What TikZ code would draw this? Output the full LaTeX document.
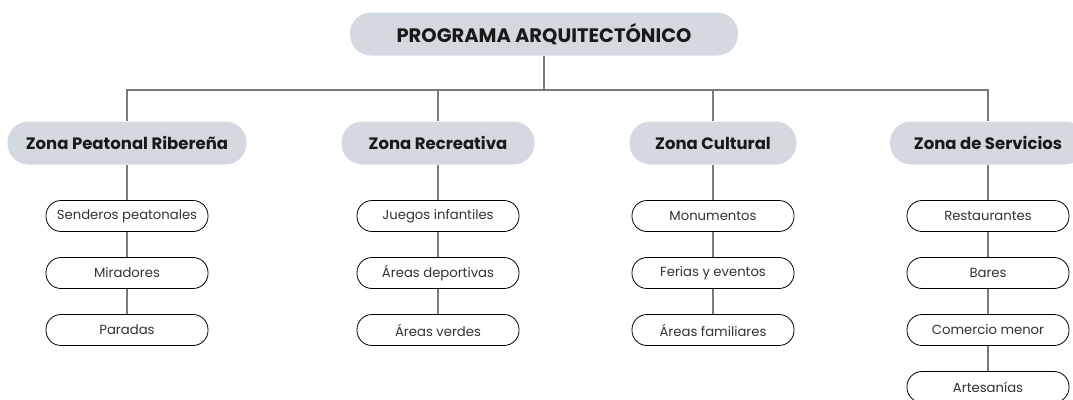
\documentclass[tikz,border=0pt]{standalone}
\usepackage{fontspec}
\setmainfont{Poppins}
\usepackage{tikz}

\definecolor{linegray}{HTML}{7A7A7A}
\definecolor{zonefill}{HTML}{D3D9DE}
\definecolor{itemtext}{HTML}{333333}

\begin{document}
\begin{tikzpicture}[x=1pt, y=-1pt,
  every zone/.style={fill=zonefill, rounded corners=21pt, minimum height=43pt,
    inner sep=0pt, font=\bfseries\fontsize{16.5}{18}\selectfont, text=black!90},
  every item/.style={draw=black, line width=0.8pt, fill=white, rounded corners=15pt,
    minimum width=162pt, minimum height=31pt, inner sep=0pt,
    font=\fontsize{13.2}{15}\selectfont, text=itemtext},
  link/.style={draw=linegray, line width=2.4pt}]

\useasboundingbox (0,0) rectangle (1073,399);

\node [every zone/.try, minimum width=388pt, font=\bfseries\fontsize{19.5}{21}\selectfont]
  (programa) at (544,34) {PROGRAMA ARQUITECTÓNICO};

\foreach \l/\x/\w [count=\i] in {Zona Peatonal Ribereña/127/239, Zona Recreativa/438/193,
    Zona Cultural/713/167, Zona de Servicios/988/196}
  \node [every zone/.try, minimum width=\w pt, alias=item-\i-0] (zone-\i) at (\x,143) {\l};

\foreach \i/\x/\items in {1/127/{Senderos peatonales,Miradores,Paradas},
    2/438/{Juegos infantiles,Áreas deportivas,Áreas verdes},
    3/713/{Monumentos,Ferias y eventos,Áreas familiares},
    4/988/{Restaurantes,Bares,Comercio menor,Artesanías}}
  \foreach \t [count=\j] in \items
    \node [every item/.try] (item-\i-\j) at (\x,159+57*\j) {\t};

% bus from the title to every zone
\foreach \i in {1,...,4}
  \draw [link] (programa.south) -- ++(0,34) -| (zone-\i.north);

\foreach \i/\n in {1/3,2/3,3/3,4/4}
  \foreach \j [remember=\j as \k (initially 0)] in {1,...,\n}
    \draw [link] (item-\i-\k) -- (item-\i-\j);

\end{tikzpicture}
\end{document}
